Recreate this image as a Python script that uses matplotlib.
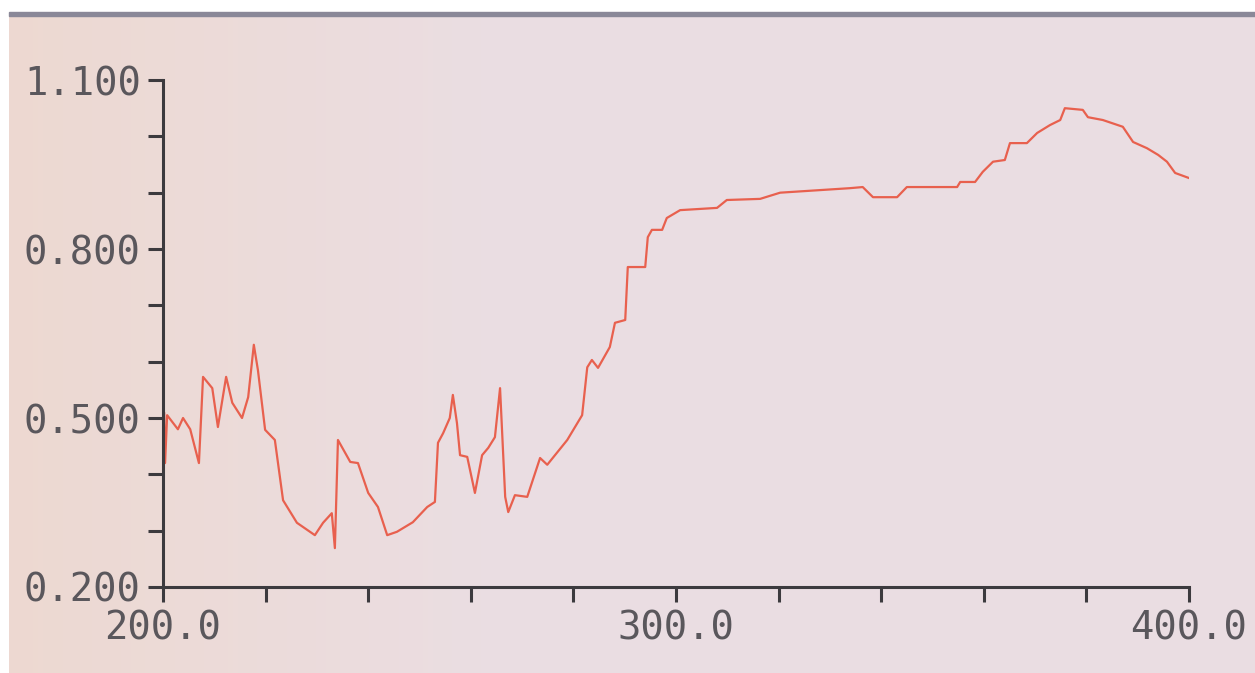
import numpy as np
import matplotlib
matplotlib.use("Agg")
import matplotlib.pyplot as plt
from matplotlib.patches import Rectangle

# spectrum (wavelength nm, absorbance)
wavelength = [200.0, 200.2, 200.4, 200.8, 202.9, 203.9, 205.3, 207.0, 207.8, 209.6,
              210.7, 212.3, 213.5, 215.4, 216.6, 217.7, 218.5, 219.9, 221.8, 223.4,
              226.1, 229.6, 231.2, 232.9, 233.5, 234.1, 236.5, 238.0, 240.0, 241.9,
              243.7, 245.6, 248.7, 251.5, 253.0, 253.6, 254.6, 255.9, 256.5, 257.3,
              257.9, 259.3, 260.8, 262.2, 263.4, 264.7, 265.7, 266.7, 267.3, 268.6,
              271.0, 273.5, 274.9, 278.8, 281.7, 282.7, 283.6, 284.8, 287.1, 288.1,
              290.1, 290.6, 294.0, 294.5, 295.3, 297.3, 298.2, 300.8, 308.0, 309.9,
              316.4, 320.3, 333.9, 336.4, 338.4, 343.1, 345.0, 354.8, 355.4, 358.3,
              359.8, 361.8, 364.1, 365.1, 368.4, 370.4, 372.9, 374.9, 375.8, 379.3,
              380.3, 383.2, 387.1, 389.1, 391.8, 394.0, 395.7, 397.3, 400.0]
absorbance = [0.32, 0.51, 0.42, 0.505, 0.48, 0.50, 0.48, 0.42, 0.573, 0.553,
              0.484, 0.573, 0.527, 0.50, 0.537, 0.63, 0.585, 0.479, 0.461, 0.354,
              0.314, 0.292, 0.314, 0.331, 0.269, 0.461, 0.422, 0.42, 0.367, 0.342,
              0.292, 0.298, 0.315, 0.342, 0.351, 0.456, 0.473, 0.50, 0.541, 0.491,
              0.434, 0.431, 0.367, 0.434, 0.447, 0.466, 0.553, 0.36, 0.333, 0.363,
              0.36, 0.429, 0.417, 0.461, 0.505, 0.59, 0.603, 0.589, 0.626, 0.669,
              0.674, 0.768, 0.768, 0.821, 0.834, 0.834, 0.855, 0.869, 0.873, 0.887,
              0.889, 0.90, 0.908, 0.91, 0.892, 0.892, 0.91, 0.91, 0.919, 0.919,
              0.937, 0.955, 0.958, 0.988, 0.988, 1.006, 1.02, 1.029, 1.05, 1.047,
              1.034, 1.029, 1.017, 0.99, 0.979, 0.967, 0.955, 0.935, 0.926]

x_major = [200, 300, 400]
x_labels = ["200.0", "300.0", "400.0"]
x_minor = list(range(200, 401, 20))
y_major = [0.2, 0.5, 0.8, 1.1]
y_labels = ["0.200", "0.500", "0.800", "1.100"]
y_minor = [0.2, 0.3, 0.4, 0.5, 0.6, 0.7, 0.8, 0.9, 1.0, 1.1]

axis_col = "#3c3a3e"
text_col = "#5a575c"
line_col = "#e8604e"

fig = plt.figure(figsize=(12.55, 6.73), dpi=100)
fig.patch.set_facecolor("#ffffff")

# screen background: warm beige on the left fading to pale lavender
bg = fig.add_axes([0, 0, 1, 1], zorder=-10)
grad = np.linspace(0, 1, 256)[None, :]
left = np.array([0.93, 0.85, 0.82])
mid = np.array([0.92, 0.87, 0.89])
right = np.array([0.92, 0.87, 0.89])
rgb = np.where(grad[..., None] < 0.4,
               left + (mid - left) * (grad[..., None] / 0.4),
               mid + (right - mid) * ((grad[..., None] - 0.4) / 0.6))
bg.imshow(rgb, aspect="auto", extent=[0.007, 1, 0, 0.982], transform=bg.transAxes)
bg.set_xlim(0, 1)
bg.set_ylim(0, 1)
bg.add_patch(Rectangle((0.007, 0.976), 0.993, 0.006, color="#8a8898", transform=bg.transAxes))
bg.axis("off")

ax = fig.add_axes([0.1299, 0.1278, 0.8175, 0.7533])
ax.patch.set_alpha(0)
ax.plot(wavelength, absorbance, color=line_col, lw=1.6)

ax.set_xlim(200, 400)
ax.set_ylim(0.2, 1.1)
for s in ["top", "right"]:
    ax.spines[s].set_visible(False)
for s in ["left", "bottom"]:
    ax.spines[s].set_color(axis_col)
    ax.spines[s].set_linewidth(2.2)

ax.set_xticks(x_minor, minor=True)
ax.set_xticks(x_major)
ax.set_xticklabels(x_labels)
ax.set_yticks(y_minor, minor=True)
ax.set_yticks(y_major)
ax.set_yticklabels(y_labels)

for lab in ax.get_xticklabels() + ax.get_yticklabels():
    lab.set_fontfamily("DejaVu Sans Mono")
    lab.set_fontsize(28)
    lab.set_color(text_col)

ax.tick_params(axis="both", which="both", direction="out", color=axis_col, width=2.2, length=11)
ax.tick_params(axis="x", which="both", pad=5)
ax.tick_params(axis="y", which="both", pad=5)

fig.savefig("out.png", dpi=100)
